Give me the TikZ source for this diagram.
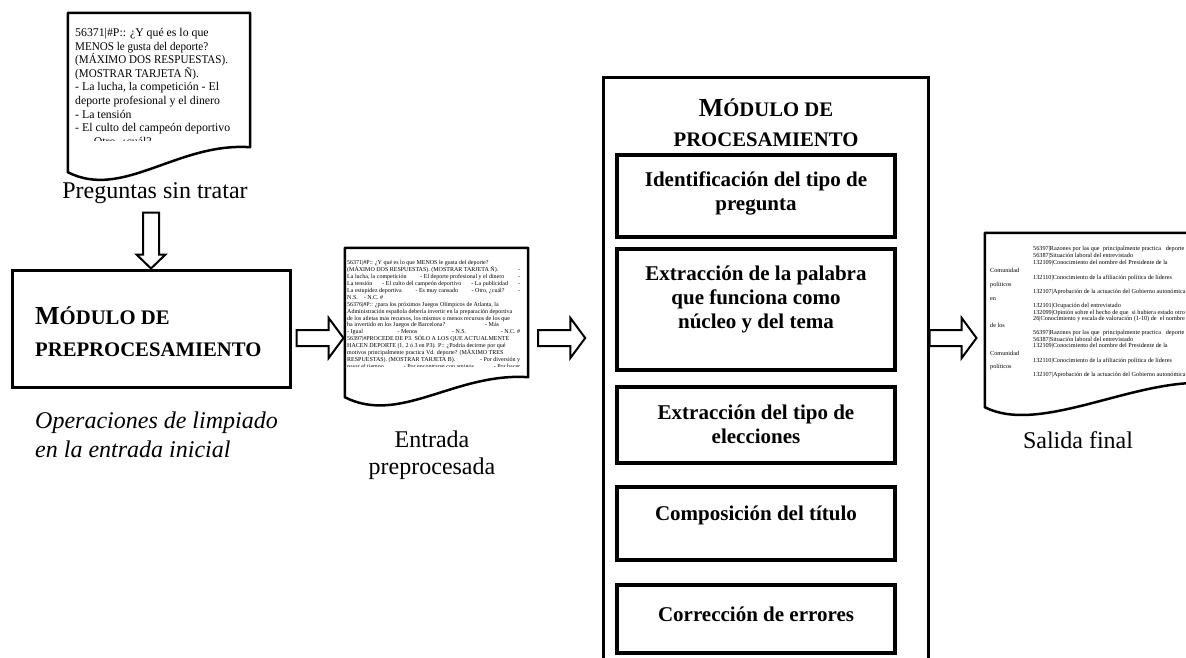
\documentclass[tikz,border=0pt]{standalone}
\usepackage{fontspec}
\setmainfont{Liberation Serif}
\usetikzlibrary{calc,shapes.arrows}

% small capitals built by hand (large first letter, smaller rest)
\newcommand{\fakesc}[2]{{\fontsize{26}{30}\selectfont #1}{\fontsize{20.7}{30}\selectfont #2}}
% one justified line of the preprocessed text
\newcommand{\midline}[1]{\hbox to 173pt{#1}}
% narrower capitals in the raw text
\newcommand{\narrowcaps}[1]{\scalebox{0.94}[1]{#1}}

\tikzset{
  docbox/.style={draw=none, inner sep=0pt},
  docline/.style={line width=2.5pt, line join=round},
  modbox/.style={draw, line width=3pt, inner sep=0pt},
  stepbox/.style={draw, line width=4pt, minimum width=278pt, inner sep=0pt},
  steptext/.style={font=\bfseries\fontsize{21}{24}\selectfont, align=center, inner sep=0pt},
  caption/.style={font=\fontsize{24}{27}\selectfont, align=center, inner sep=0pt},
  hollow/.style={single arrow, draw, line width=2pt, fill=white, inner sep=7pt, outer sep=0pt, single arrow head indent=0pt},
  hollowright/.style={hollow, minimum height=47pt, minimum width=38pt, single arrow head extend=12pt, single arrow tip angle=107},
  hollowdown/.style={hollow, shape border rotate=270, minimum height=56pt, minimum width=27pt, single arrow head extend=6.5pt, single arrow tip angle=92}
}

\begin{document}
\begin{tikzpicture}[x=1pt,y=-1pt]
\useasboundingbox (0,0) rectangle (1186,657);

% raw questions
\node[docbox, minimum width=182pt, minimum height=134pt] (raw) at (159,80) {};
\draw[docline] (raw.north west) -- (raw.north east) -- (raw.south east) .. controls +(-73,-5) and +(55,28) .. ($(raw.south west)+(0,25)$) -- cycle;
\begin{scope}
\clip (raw.north west) rectangle ($(raw.south east)+(0,-7)$);
\node[anchor=north west, inner sep=0pt, align=left, font=\fontsize{11.8}{13.6}\selectfont] (rawtxt) at (75,28) {56371|\#P:: ¿Y qué es lo que\\\narrowcaps{MENOS le gusta del deporte?}\\\narrowcaps{(MÁXIMO DOS RESPUESTAS).}\\\narrowcaps{(MOSTRAR TARJETA Ñ).}\\- La lucha, la competición - El\\deporte profesional y el dinero\\- La tensión\\- El culto del campeón deportivo\\- \quad Otro, ¿cuál?};
\end{scope}
\node[caption] (rawlab) at (155,193) {Preguntas sin tratar};

% preprocessing module
\node[modbox, minimum width=278pt, minimum height=117pt] (pre) at (151,328.5) {};
\node[anchor=west, align=left, inner sep=0pt, font=\bfseries\fontsize{26}{32}\selectfont] (pretitle) at (35,331.5) {\fakesc{M}{ÓDULO DE}\\\fakesc{}{PREPROCESAMIENTO}};
\node[anchor=west, align=left, inner sep=0pt, font=\itshape\fontsize{24}{28.5}\selectfont] (prenote) at (35,435) {Operaciones de limpiado\\en la entrada inicial};
\node[hollowdown, anchor=tip] (arrdown) at (pre.north) {};

% preprocessed input
\node[docbox, minimum width=183pt, minimum height=129pt] (mid) at (436.5,312.5) {};
\draw[docline] (mid.north west) -- (mid.north east) -- (mid.south east) .. controls +(-73,-5) and +(55,28) .. ($(mid.south west)+(0,20)$) -- cycle;
\begin{scope}
\clip (mid.north west) rectangle ($(mid.south east)+(0,-11)$);
\node[anchor=north west, inner sep=0pt, align=left, font=\fontsize{6.0}{6.9}\selectfont] (midtxt) at (347,260.5) {56371|\#P:: ¿Y qué es lo que MENOS le gusta del deporte?\\\midline{(MÁXIMO DOS RESPUESTAS). (MOSTRAR TARJETA Ñ).\hfill -}\\\midline{La lucha, la competición\hfill - El deporte profesional y el dinero\hfill -}\\\midline{La tensión\hfill - El culto del campeón deportivo\hfill - La publicidad\hfill -}\\\midline{La estupidez deportiva\hfill - Es muy cansado\hfill - Otro, ¿cuál?\hfill -}\\N.S.\quad - N.C. \#\\56376|\#P:: ¿para los próximos Juegos Olímpicos de Atlanta, la\\Administración española debería invertir en la preparación deportiva\\de los atletas más recursos, los mismos o menos recursos de los que\\ha invertido en los Juegos de Barcelona?\hspace{40pt}- Más\\\midline{- Igual\hfill - Menos\hfill - N.S.\hfill - N.C. \#}\\56397|\#PROCEDE DE P3. SÓLO A LOS QUE ACTUALMENTE\\HACEN DEPORTE (1, 2 ó 3 en P3). P:: ¿Podría decirme por qué\\motivos principalmente practica Vd. deporte? (MÁXIMO TRES\\\midline{RESPUESTAS). (MOSTRAR TARJETA B).\hfill - Por diversión y}\\\midline{pasar el tiempo\hfill - Por encontrarse con amigos\hfill - Por hacer}};
\end{scope}
\node[caption] (midlab) at (432,455) {Entrada\\preprocesada};

% processing module
\node[modbox, minimum width=325pt, minimum height=620pt] (proc) at (765.5,387) {};
\node[align=center, inner sep=0pt, font=\bfseries\fontsize{26}{29.5}\selectfont] (proctitle) at (766,122.5) {\fakesc{M}{ÓDULO DE}\\\fakesc{}{PROCESAMIENTO}};
\node[stepbox, minimum height=82pt] (ident) at (756,196) {};
\node[steptext] (identtxt) at (756,193.5) {Identificación del tipo de\\pregunta};
\node[stepbox, minimum height=121pt] (nucleo) at (756,309.5) {};
\node[steptext] (nucleotxt) at (756,299) {Extracción de la palabra\\que funciona como\\núcleo y del tema};
\node[stepbox, minimum height=76pt] (elecc) at (756,425) {};
\node[steptext] (elecctxt) at (756,424.5) {Extracción del tipo de\\elecciones};
\node[stepbox, minimum height=73pt] (titulo) at (756,523.5) {};
\node[steptext] (titulotxt) at (756,515) {Composición del título};
\node[stepbox, minimum height=68pt] (errores) at (756,619) {};
\node[steptext] (errorestxt) at (756,614) {Corrección de errores};

% final output
\node[docbox, minimum width=222pt, minimum height=150pt] (out) at (1096,308) {};
\draw[docline] (out.north west) -- (out.north east) -- (out.south east) .. controls +(-73,-5) and +(55,28) .. ($(out.south west)+(0,24)$) -- cycle;
\begin{scope}
\clip (out.north west) rectangle (1186,380);
\node[anchor=north west, inner sep=0pt, align=left, font=\fontsize{6.2}{6.5}\selectfont] (outtxt) at (1033,246) {56397|Razones por las que \ principalmente practica \ \ deporte\\56387|Situación laboral del entrevistado\\[1pt]132109|Conocimiento del nombre del Presidente de la\\[8.5pt]132110|Conocimiento de la afiliación política de líderes\\[7.5pt]132107|Aprobación de la actuación del Gobierno autonómica\\[7.5pt]132101|Ocupación del entrevistado\\132099|Opinión sobre el hecho de que \ si hubiera estado otro\\26|Conocimiento y escala de valoración (1-10) de \ el nombre\\[7.5pt]56397|Razones por las que \ principalmente practica \ \ deporte\\56387|Situación laboral del entrevistado\\132109|Conocimiento del nombre del Presidente de la\\[8.5pt]132110|Conocimiento de la afiliación política de líderes\\[7.5pt]132107|Aprobación de la actuación del Gobierno autonómica};
\node[anchor=north west, inner sep=0pt, align=left, font=\fontsize{6.2}{6.5}\selectfont] (outcol) at (990,268) {Comunidad\\[7.5pt]políticos\\[7.5pt]en\\[20.5pt]de los\\[21.5pt]Comunidad\\[6.5pt]políticos};
\end{scope}
\node[caption] (outlab) at (1078,440) {Salida final};

% flow arrows
\coordinate (flow) at (0,338);
\node[hollowright, anchor=tail] (arr1) at ($(pre.east |- flow)+(5,0)$) {};
\node[hollowright, anchor=tail] (arr2) at ($(mid.east |- flow)+(10,0)$) {};
\node[hollowright, anchor=tail] (arr3) at (proc.east |- flow) {};
\end{tikzpicture}
\end{document}
